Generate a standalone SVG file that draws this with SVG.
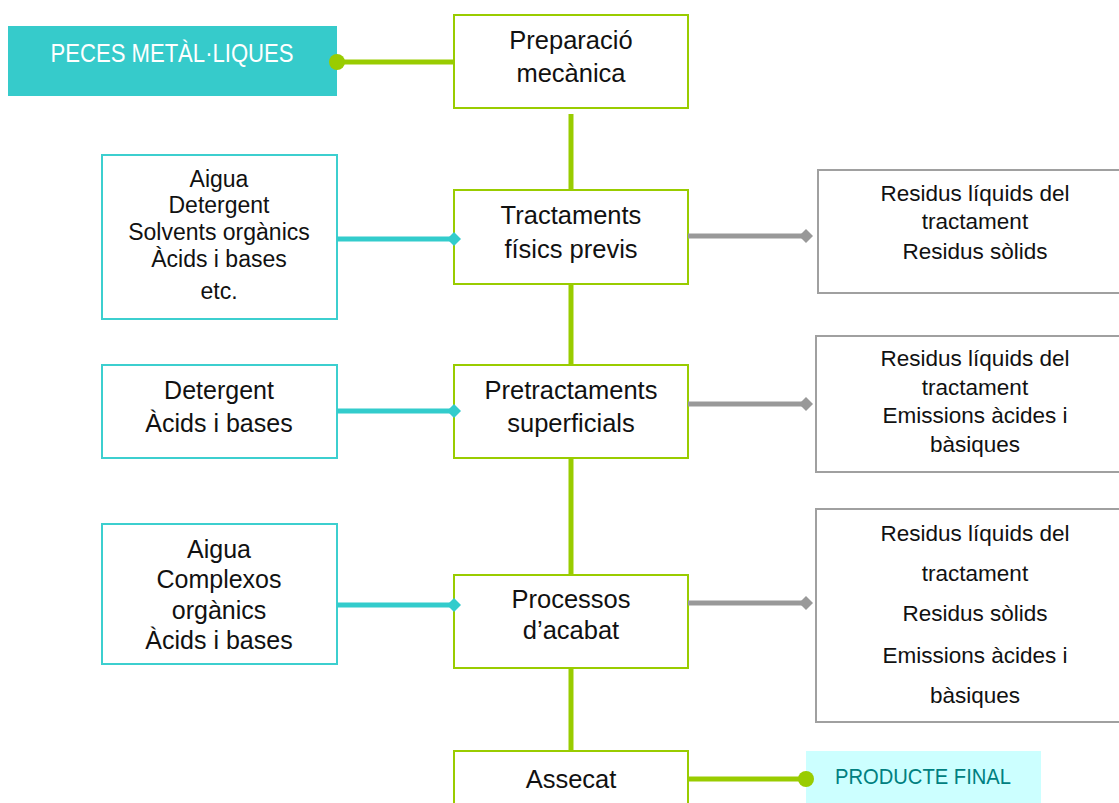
<svg xmlns="http://www.w3.org/2000/svg" width="1119" height="803" viewBox="0 0 1119 803">
<style>
text{font-family:"Liberation Sans",Arial,sans-serif;fill:#111;text-anchor:middle}
.proc{fill:#fff;stroke:#99CC00;stroke-width:2}
.inp{fill:#fff;stroke:#3CCFCF;stroke-width:2}
.out{fill:#fff;stroke:#A0A0A0;stroke-width:2}
.c{font-size:25.5px}
.m{font-size:25px}
.l{font-size:23px}
.r{font-size:22.5px}
.g{stroke:#99CC00;stroke-width:5;fill:none}
.cy{stroke:#33CCCC;stroke-width:5;fill:none}
.gr{stroke:#999;stroke-width:5;fill:none}
</style>
<defs>
<marker id="dc" viewBox="-6 -6 12 12" markerWidth="14" markerHeight="14" markerUnits="userSpaceOnUse" refX="0" refY="0" orient="auto"><path d="M-6 0 L0 -6 L6 0 L0 6 Z" fill="#33CCCC"/></marker>
<marker id="dg" viewBox="-6 -6 12 12" markerWidth="14" markerHeight="14" markerUnits="userSpaceOnUse" refX="0" refY="0" orient="auto"><path d="M-6 0 L0 -6 L6 0 L0 6 Z" fill="#999"/></marker>
</defs>
<g id="peces">
<rect x="8" y="26" width="329" height="70" fill="#36CBCB"/>
<text x="172" y="62" font-size="26" style="fill:#fff" textLength="243" lengthAdjust="spacingAndGlyphs">PECES METÀL·LIQUES</text>
</g>
<g id="preparacio">
<rect class="proc" x="454" y="15" width="234" height="93"/>
<text class="c" x="571" y="49">Preparació</text>
<text class="c" x="571" y="82">mecànica</text>
</g>
<g id="tractaments">
<rect class="proc" x="454" y="190" width="234" height="94"/>
<text class="c" x="571" y="224">Tractaments</text>
<text class="c" x="571" y="258">físics previs</text>
</g>
<g id="pretractaments">
<rect class="proc" x="454" y="365" width="234" height="93"/>
<text class="c" x="571" y="399">Pretractaments</text>
<text class="c" x="571" y="432">superficials</text>
</g>
<g id="processos">
<rect class="proc" x="454" y="575" width="234" height="93"/>
<text class="c" x="571" y="608">Processos</text>
<text class="c" x="571" y="639">d’acabat</text>
</g>
<g id="assecat">
<rect class="proc" x="454" y="751" width="234" height="60"/>
<text class="c" x="571" y="788">Assecat</text>
</g>
<g id="producte">
<rect x="806" y="751" width="235" height="52" fill="#CCFFFF"/>
<text x="923" y="784" font-size="22" style="fill:#008080" textLength="176" lengthAdjust="spacingAndGlyphs">PRODUCTE FINAL</text>
</g>
<g id="in1">
<rect class="inp" x="102" y="155" width="235" height="164"/>
<text class="l" x="219" y="187">Aigua</text>
<text class="l" x="219" y="213">Detergent</text>
<text class="l" x="219" y="240">Solvents orgànics</text>
<text class="l" x="219" y="267">Àcids i bases</text>
<text class="l" x="219" y="299">etc.</text>
</g>
<g id="in2">
<rect class="inp" x="102" y="365" width="235" height="93"/>
<text class="m" x="219" y="399">Detergent</text>
<text class="m" x="219" y="432">Àcids i bases</text>
</g>
<g id="in3">
<rect class="inp" x="102" y="524" width="235" height="140"/>
<text class="m" x="219" y="558">Aigua</text>
<text class="m" x="219" y="588">Complexos</text>
<text class="m" x="219" y="619">orgànics</text>
<text class="m" x="219" y="649">Àcids i bases</text>
</g>
<g id="out1">
<rect class="out" x="818" y="170" width="310" height="123"/>
<text class="r" x="975" y="201">Residus líquids del</text>
<text class="r" x="975" y="229">tractament</text>
<text class="r" x="975" y="259">Residus sòlids</text>
</g>
<g id="out2">
<rect class="out" x="816" y="336" width="312" height="136"/>
<text class="r" x="975" y="366">Residus líquids del</text>
<text class="r" x="975" y="395">tractament</text>
<text class="r" x="975" y="423">Emissions àcides i</text>
<text class="r" x="975" y="452">bàsiques</text>
</g>
<g id="out3">
<rect class="out" x="816" y="509" width="312" height="213"/>
<text class="r" x="975" y="541">Residus líquids del</text>
<text class="r" x="975" y="581">tractament</text>
<text class="r" x="975" y="621">Residus sòlids</text>
<text class="r" x="975" y="663">Emissions àcides i</text>
<text class="r" x="975" y="703">bàsiques</text>
</g>
<g id="connectors">
<line class="g" x1="337" y1="62" x2="454" y2="62"/>
<circle cx="337" cy="62" r="8" fill="#99CC00"/>
<line class="g" x1="571" y1="114" x2="571" y2="190"/>
<line class="g" x1="571" y1="284" x2="571" y2="365"/>
<line class="g" x1="571" y1="458" x2="571" y2="575"/>
<line class="g" x1="571" y1="668" x2="571" y2="750"/>
<line class="cy" x1="337" y1="239" x2="454" y2="239" marker-end="url(#dc)"/>
<line class="cy" x1="337" y1="411" x2="454" y2="411" marker-end="url(#dc)"/>
<line class="cy" x1="337" y1="605" x2="454" y2="605" marker-end="url(#dc)"/>
<line class="gr" x1="688" y1="236" x2="806" y2="236" marker-end="url(#dg)"/>
<line class="gr" x1="688" y1="404" x2="806" y2="404" marker-end="url(#dg)"/>
<line class="gr" x1="688" y1="603" x2="806" y2="603" marker-end="url(#dg)"/>
<line class="g" x1="688" y1="779" x2="806" y2="779"/>
<circle cx="806" cy="779" r="8" fill="#99CC00"/>
</g>
</svg>
